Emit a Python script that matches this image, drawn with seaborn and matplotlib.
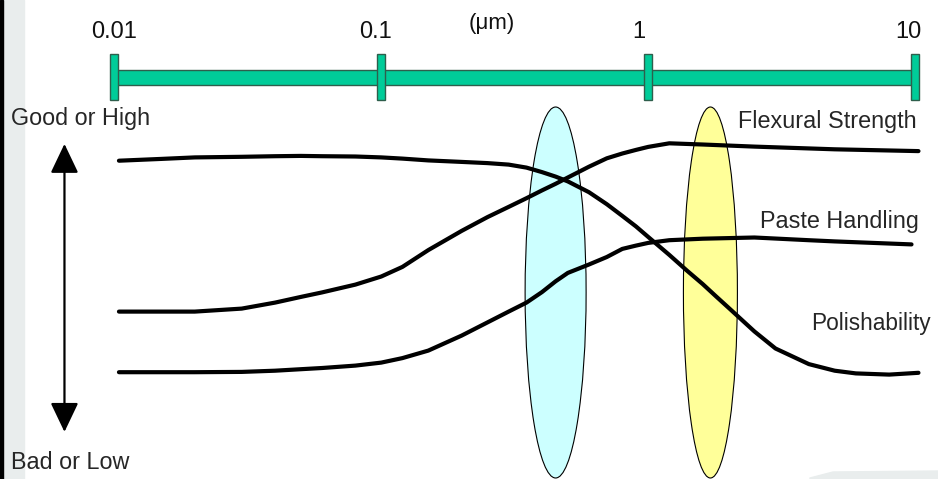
import matplotlib
matplotlib.use("Agg")
import matplotlib.pyplot as plt
from matplotlib.patches import Ellipse, Rectangle, Polygon
import seaborn as sns

# particle size in um (log axis); score: 0 = bad/low, 100 = good/high
flex_size = [0.0104, 0.015, 0.02, 0.03, 0.04, 0.05, 0.06, 0.08, 0.1, 0.12, 0.15, 0.2, 0.25,
             0.3, 0.35, 0.4, 0.45, 0.5, 0.6, 0.7, 0.8, 0.9, 1.0, 1.2, 1.6, 2.5, 5.0, 10.3]
flex_score = [42.8, 42.8, 42.8, 43.8, 45.8, 47.7, 49.2, 51.8, 54.5, 57.7, 63.3, 69.7, 74.3,
              77.7, 80.6, 83.2, 85.4, 87.5, 91.1, 93.9, 95.5, 96.7, 97.7, 98.9, 98.5, 97.8, 96.9, 96.3]

paste_size = [0.0104, 0.015, 0.02, 0.03, 0.04, 0.05, 0.06, 0.08, 0.1, 0.12, 0.15, 0.2, 0.25,
              0.3, 0.35, 0.4, 0.45, 0.5, 0.6, 0.7, 0.8, 0.9, 1.0, 1.2, 1.6, 2.5, 4.0, 5.0, 9.7]
paste_score = [22.6, 22.6, 22.6, 22.7, 23.1, 23.6, 24.0, 24.8, 25.8, 27.3, 29.8, 34.8, 39.2,
               42.8, 45.8, 49.3, 52.9, 55.7, 58.5, 61.0, 63.7, 64.8, 65.7, 66.6, 67.1, 67.5,
               66.6, 66.2, 65.2]

polish_size = [0.0104, 0.015, 0.02, 0.03, 0.04, 0.05, 0.06, 0.08, 0.1, 0.12, 0.15, 0.2, 0.25,
               0.3, 0.35, 0.4, 0.45, 0.5, 0.6, 0.7, 0.8, 0.9, 1.0, 1.2, 1.4, 1.6, 1.8, 2.0,
               2.5, 3.0, 4.0, 5.0, 6.0, 8.0, 10.3]
polish_score = [93.1, 93.7, 94.2, 94.4, 94.6, 94.7, 94.6, 94.5, 94.2, 93.8, 93.2, 92.7, 92.3,
                91.8, 90.8, 89.3, 87.8, 86.2, 82.6, 78.6, 74.7, 71.2, 67.7, 61.7, 56.4, 52.0,
                47.8, 44.1, 36.2, 30.5, 25.3, 23.1, 22.2, 21.8, 22.4]

scale_ticks = [0.01, 0.1, 1, 10]
scale_labels = ["0.01", "0.1", "1", "10"]

highlight_sizes = [0.450, 1.711]
highlight_colors = ["#ccffff", "#ffff99"]

sns.set_theme(style="white")
plt.rcParams["font.family"] = ["Liberation Sans", "DejaVu Sans"]

fig = plt.figure(figsize=(9.38, 4.79), dpi=100)
ax = fig.add_axes([0, 0, 1, 1])
ax.set_xscale("log")
ax.set_xlim(0.003727, 12.19)
ax.set_ylim(-13, 146.67)
ax.axis("off")

# page decorations (behind everything)
fig.patches.append(Rectangle((3 / 938, 0), 21 / 938, 1, transform=fig.transFigure,
                             color="#e9eded", zorder=-2))
fig.patches.append(Rectangle((0.4 / 938, 0), 2.2 / 938, 1, transform=fig.transFigure,
                             color="black", zorder=-1))
fig.patches.append(Polygon([(810 / 938, 1 / 479), (833 / 938, 7 / 479), (1, 8 / 479),
                            (1, 0), (810 / 938, 0)], transform=fig.transFigure,
                           color="#e9eded", zorder=-2))

# highlight ellipses
widths = [61, 54]
for size, col, w in zip(highlight_sizes, highlight_colors, widths):
    cx = ax.transAxes.inverted().transform(ax.transData.transform((size, 0)))[0]
    ax.add_patch(Ellipse((cx, 1 - 292.5 / 479), w / 938, 371 / 479, transform=ax.transAxes,
                         facecolor=col, edgecolor="black", lw=0.8, zorder=1))

# size scale bar
bar_col = "#00cc99"
edge_col = "#2e5e4c"
ax.add_patch(Rectangle((scale_ticks[0], 118.3), scale_ticks[-1] - scale_ticks[0], 5,
                       facecolor=bar_col, edgecolor=edge_col, lw=1, zorder=2))
label_shift = [0, -6, -9, -7]
for t, lab, dx in zip(scale_ticks, scale_labels, label_shift):
    ax.add_patch(Rectangle((t / 1.035, 113.3), t * 1.035 - t / 1.035, 15.4,
                           facecolor=bar_col, edgecolor=edge_col, lw=1, zorder=3))
    ax.annotate(lab, (t, 134), xytext=(dx * 0.72, 0), textcoords="offset points",
                ha="center", va="baseline", fontsize=17, color="#111111")
ax.text(0.2594, 139, "(\u03bcm)", ha="center", va="center", fontsize=16, color="#111111")

# property curves
for xs, ys in [(flex_size, flex_score), (paste_size, paste_score), (polish_size, polish_score)]:
    sns.lineplot(x=xs, y=ys, ax=ax, color="black", lw=3, sort=False, estimator=None, zorder=4)

ax.text(10.17, 104, "Flexural Strength", ha="right", va="baseline", fontsize=16.8)
ax.text(10.35, 70.7, "Paste Handling", ha="right", va="baseline", fontsize=16.8)
ax.text(11.48, 36.7, "Polishability", ha="right", va="baseline", fontsize=16.3)

# good/bad arrow
ax.annotate("", xy=(0.0065, 98.7), xytext=(0.0065, 2.7),
            arrowprops=dict(arrowstyle="<|-|>,head_length=1.3,head_width=0.62",
                            mutation_scale=14, lw=1.6, color="black", shrinkA=0, shrinkB=0))
ax.text(11 / 938, 1 - 125 / 479, "Good or High", transform=ax.transAxes,
        ha="left", va="baseline", fontsize=16.8)
ax.text(11 / 938, 1 - 469 / 479, "Bad or Low", transform=ax.transAxes,
        ha="left", va="baseline", fontsize=16.8)

fig.savefig("out.png", dpi=100)
